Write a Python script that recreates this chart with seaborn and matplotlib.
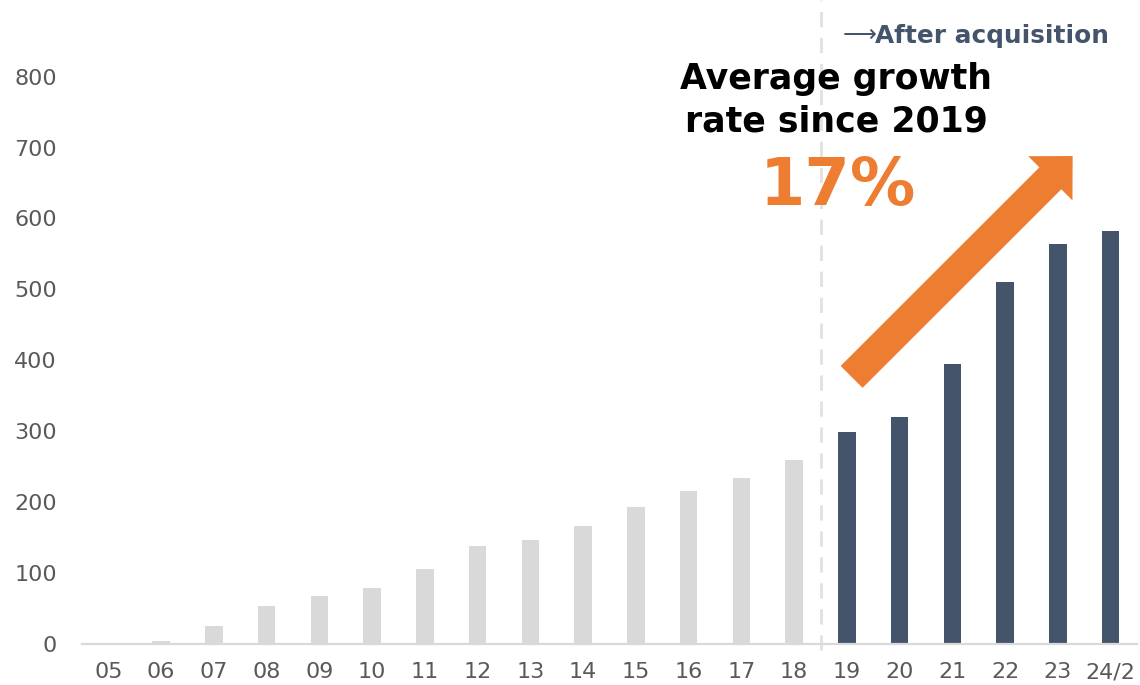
import matplotlib
matplotlib.use("Agg")
import matplotlib.pyplot as plt
import seaborn as sns
import pandas as pd

# Fiscal-year labels and values
years = ["05", "06", "07", "08", "09", "10", "11", "12", "13", "14",
         "15", "16", "17", "18", "19", "20", "21", "22", "23", "24/2"]
values = [2, 4, 25, 54, 68, 79, 106, 138, 147, 166,
          193, 216, 234, 260, 299, 320, 395, 511, 564, 583]
periods = ["Before"] * 14 + ["After"] * 6
yticks = [0, 100, 200, 300, 400, 500, 600, 700, 800]

GRAY = "#D9D9D9"
NAVY = "#44546A"
ORANGE = "#ED7D31"
TICK = "#595959"

df = pd.DataFrame({"year": years, "value": values, "period": periods})

sns.set_theme(style="white")
plt.rcParams["font.family"] = ["DejaVu Sans"]

fig = plt.figure(figsize=(11.4, 6.85), dpi=100)
ax = fig.add_axes([82 / 1140, 41 / 685, 1055 / 1140, 644 / 685])

sns.barplot(data=df, x="year", y="value", hue="period",
            palette={"Before": GRAY, "After": NAVY},
            dodge=False, width=0.33, legend=False, ax=ax,
            saturation=1, edgecolor="none")

ax.set_xlim(-0.5, len(years) - 0.5)
ax.set_ylim(0, 908)
ax.set_yticks(yticks)
ax.set_yticklabels([str(t) for t in yticks])
ax.set_xlabel("")
ax.set_ylabel("")
ax.tick_params(axis="both", length=0, labelsize=16, labelcolor=TICK)
ax.tick_params(axis="y", pad=18)
ax.tick_params(axis="x", pad=13)

for side in ("top", "right", "left"):
    ax.spines[side].set_visible(False)
ax.spines["bottom"].set_color(GRAY)
ax.spines["bottom"].set_linewidth(1.6)
ax.grid(False)

# Divider between the two periods
split = periods.index("After") - 0.5
ax.plot([split, split], [-0.01, 1.0], transform=ax.get_xaxis_transform(),
        color="#E3E3E3", lw=2.2, ls=(0, (5, 3.5)), clip_on=False, zorder=0)

# Growth arrow
ax.annotate("", xy=(18.28, 688), xytext=(14.09, 376.6),
            arrowprops=dict(arrowstyle="simple,head_length=22.7,head_width=45,tail_width=22.3",
                            mutation_scale=1, color=ORANGE, shrinkA=0, shrinkB=0, lw=0),
            annotation_clip=False)

fig.text(843 / 1140, 1 - 35 / 685, "\u27f6", ha="left", va="center",
         fontsize=17, color=NAVY)
fig.text(875 / 1140, 1 - 36 / 685, "After acquisition", ha="left", va="center",
         fontsize=17.8, fontweight="bold", color=NAVY)
fig.text(836 / 1140, 1 - 100 / 685, "Average growth\nrate since 2019", ha="center",
         va="center", fontsize=25, fontweight="bold", color="black", linespacing=1.3)
fig.text(838 / 1140, 1 - 187 / 685, "17%", ha="center", va="center",
         fontsize=47, fontweight="bold", color=ORANGE)

fig.savefig("out.png", dpi=100)
